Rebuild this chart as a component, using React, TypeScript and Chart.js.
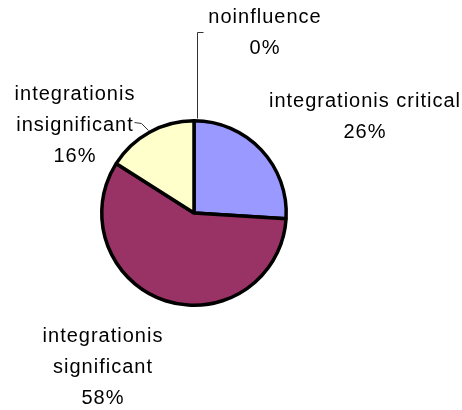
import React, { useEffect, useRef } from "react";
import { Chart, registerables } from "chart.js";

Chart.register(...registerables);

// ---- data ----
const categories: string[][] = [
  ["integrationis critical"],
  ["integrationis", "significant"],
  ["integrationis", "insignificant"],
  ["noinfluence"],
];
const values: number[] = [26, 58, 16, 0];
const colors: string[] = ["#9999FF", "#993366", "#FFFFCC", "#FFFFFF"];

// ---- label layout (offsets from pie centre, px) ----
const labelAnchors: { dx: number; dy: number }[] = [
  { dx: 171, dy: -106 },
  { dx: -91, dy: 129 },
  { dx: -119, dy: -113 },
  { dx: 71, dy: -190 },
];
const leaderLines: ([number, number][] | null)[] = [
  null,
  null,
  [
    [-60, -91],
    [-53, -90],
    [-46, -83],
  ],
  [
    [3, -95],
    [3, -181],
    [9, -181],
  ],
];
const LINE_H = 31;

const labelPlugin = {
  id: "pieLabels",
  afterDraw(chart: any) {
    const ctx: CanvasRenderingContext2D = chart.ctx;
    const arc = chart.getDatasetMeta(0).data[0];
    const cx = arc.x;
    const cy = arc.y;
    const total = values.reduce((a, b) => a + b, 0);
    ctx.save();
    // leader lines
    ctx.strokeStyle = "#333";
    ctx.lineWidth = 1;
    leaderLines.forEach((pts) => {
      if (!pts) return;
      ctx.beginPath();
      pts.forEach(([x, y], i) => {
        const px = Math.round(cx + x) + 0.5;
        const py = Math.round(cy + y) + 0.5;
        if (i === 0) ctx.moveTo(px, py);
        else ctx.lineTo(px, py);
      });
      ctx.stroke();
    });
    // texts
    ctx.fillStyle = "#000";
    ctx.font = '20px "Liberation Sans", Arial, sans-serif';
    (ctx as any).letterSpacing = "1px";
    ctx.textAlign = "center";
    ctx.textBaseline = "alphabetic";
    categories.forEach((lines, i) => {
      const pct = Math.round((values[i] / total) * 100) + "%";
      const all = [...lines, pct];
      const a = labelAnchors[i];
      all.forEach((t, j) => {
        ctx.fillText(t, cx + a.dx, cy + a.dy + j * LINE_H);
      });
    });
    ctx.restore();
  },
};

export default function App() {
  const ref = useRef<HTMLCanvasElement>(null);
  useEffect(() => {
    if (!ref.current) return;
    const chart = new Chart(ref.current, {
      type: "pie",
      data: {
        labels: categories.map((l) => l.join(" ")),
        datasets: [
          {
            data: values,
            backgroundColor: colors,
            borderColor: "#000",
            borderWidth: 3.5,
          },
        ],
      },
      options: {
        responsive: false,
        animation: false,
        layout: { padding: { left: 100, right: 174, top: 119, bottom: 103 } },
        plugins: {
          legend: { display: false },
          tooltip: { enabled: false },
          title: { display: false },
        },
      },
      plugins: [labelPlugin],
    });
    return () => chart.destroy();
  }, []);
  return (
    <div style={{ position: "fixed", left: 0, top: 0, width: 462, height: 410, background: "#fff" }}>
      <canvas ref={ref} width={462} height={410} style={{ display: "block" }} />
    </div>
  );
}
